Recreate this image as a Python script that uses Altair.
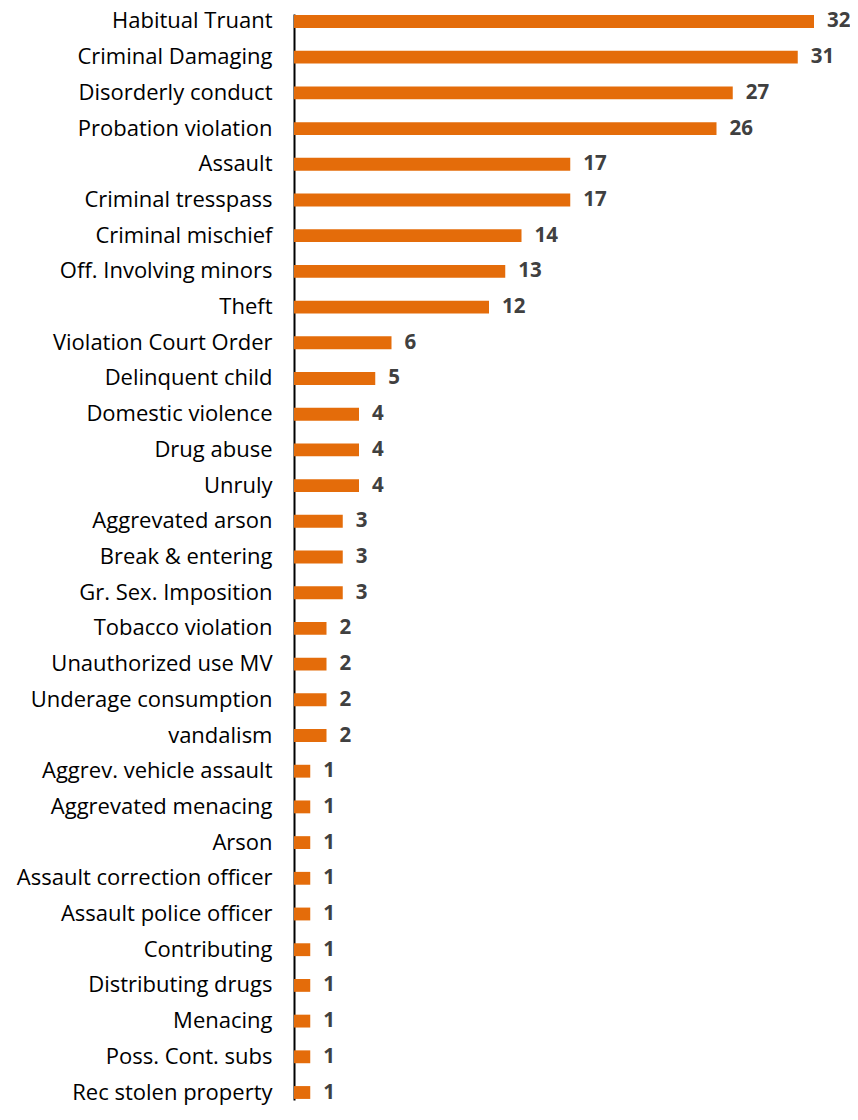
import altair as alt
import pandas as pd

categories = [
    "Habitual Truant", "Criminal Damaging", "Disorderly conduct", "Probation violation",
    "Assault", "Criminal tresspass", "Criminal mischief", "Off. Involving minors",
    "Theft", "Violation Court Order ", "Delinquent child", "Domestic violence",
    "Drug abuse", "Unruly", "Aggrevated arson", "Break & entering",
    "Gr. Sex. Imposition", "Tobacco violation", "Unauthorized use MV",
    "Underage consumption", "vandalism", "Aggrev. vehicle assault",
    "Aggrevated menacing", "Arson", "Assault correction officer",
    "Assault police officer", "Contributing", "Distributing drugs", "Menacing",
    "Poss. Cont. subs", "Rec stolen property",
]
values = [32, 31, 27, 26, 17, 17, 14, 13, 12, 6, 5, 4, 4, 4, 3, 3, 3, 2, 2, 2, 2,
          1, 1, 1, 1, 1, 1, 1, 1, 1, 1]

df = pd.DataFrame({"category": categories, "value": values})

FONT = "Open Sans"
W = 556
H = 1086
xmax = W / 16.25

y = alt.Y(
    "category:N",
    sort=categories,
    title=None,
    scale=alt.Scale(paddingInner=0.64, paddingOuter=0.03),
    axis=alt.Axis(
        ticks=False, labelPadding=22, labelFontSize=22, labelFont=FONT,
        labelColor="#000000", domainColor="#000000", domainWidth=2,
        labelLimit=400, grid=False,
    ),
)
x = alt.X("value:Q", title=None, scale=alt.Scale(domain=[0, xmax], nice=False, zero=True), axis=None)

bars = alt.Chart(df).mark_bar(color="#E46C0A").encode(y=y, x=x)
text = alt.Chart(df).mark_text(
    align="left", baseline="middle", dx=13, fontSize=20.5, fontWeight="bold",
    font=FONT, color="#404040",
).encode(y=y, x=x, text="value:Q")

chart = (bars + text).properties(
    width=W, height=H,
    autosize=alt.AutoSizeParams(type="none"),
    padding={"left": 286, "top": 6, "right": 0, "bottom": 5},
).configure_view(stroke=None)

chart.save("out.html", embed_options={"renderer": "svg", "actions": False})
